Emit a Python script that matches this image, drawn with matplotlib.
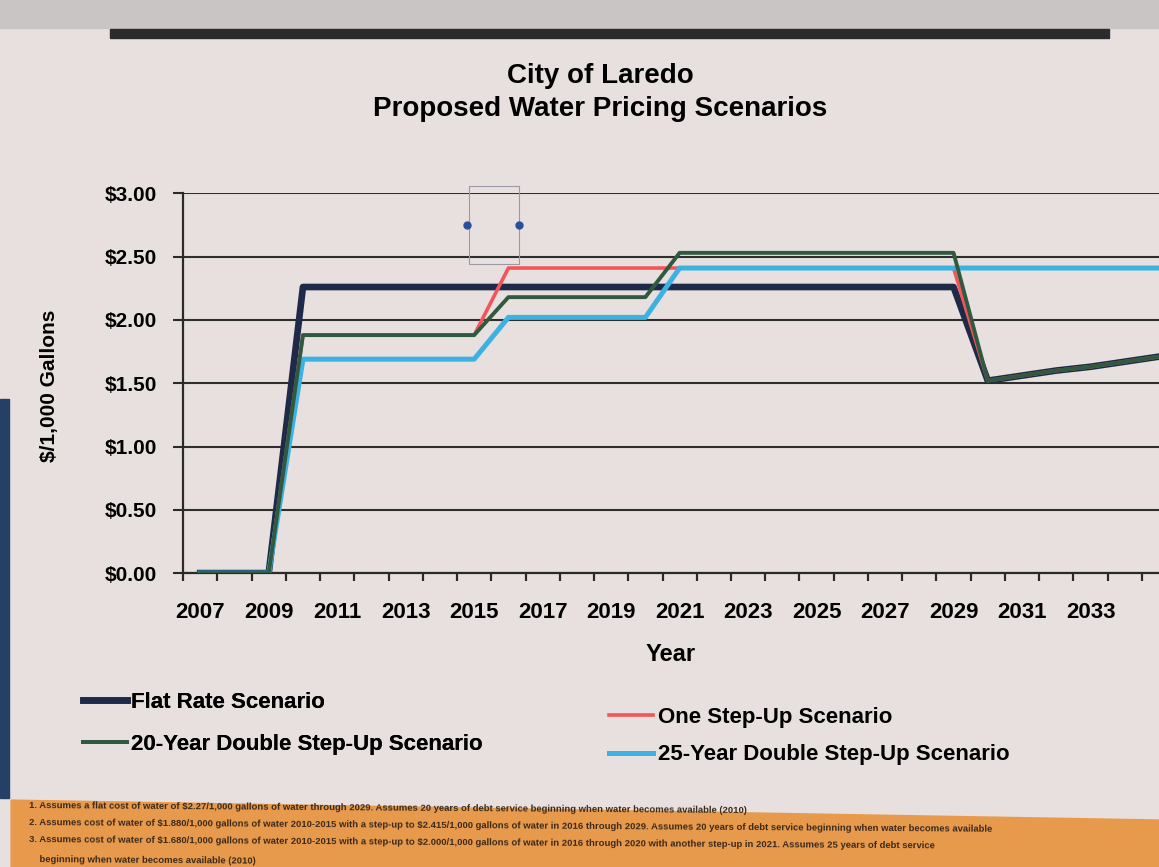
import numpy as np
import matplotlib
matplotlib.use("Agg")
import matplotlib.pyplot as plt
from matplotlib.patches import Rectangle, Polygon
from matplotlib.lines import Line2D

plt.rcParams['font.family'] = ['Liberation Sans', 'DejaVu Sans']
plt.rcParams['font.weight'] = 'bold'

# data ($ per 1,000 gallons)
years = list(range(2007, 2036))
flat_rate = [0, 0, 0] + [2.26] * 20 + [1.52, 1.56, 1.60, 1.63, 1.67, 1.71]
one_step = [0, 0, 0] + [1.88] * 6 + [2.41] * 14 + [1.52, 1.56, 1.60, 1.63, 1.67, 1.71]
double_20 = [0, 0, 0] + [1.88] * 6 + [2.18] * 5 + [2.53] * 9 + [1.52, 1.56, 1.60, 1.63, 1.67, 1.71]
double_25 = [0, 0, 0] + [1.69] * 6 + [2.02] * 5 + [2.41] * 15

x_labels = list(range(2007, 2034, 2))
y_ticks = [0, 0.5, 1.0, 1.5, 2.0, 2.5, 3.0]

footnotes = [
    r"1. Assumes a flat cost of water of \$2.27/1,000 gallons of water through 2029. Assumes 20 years of debt service beginning when water becomes available (2010)",
    r"2. Assumes cost of water of \$1.880/1,000 gallons of water 2010-2015 with a step-up to \$2.415/1,000 gallons of water in 2016 through 2029. Assumes 20 years of debt service beginning when water becomes available",
    r"3. Assumes cost of water of \$1.680/1,000 gallons of water 2010-2015 with a step-up to \$2.000/1,000 gallons of water in 2016 through 2020 with another step-up in 2021. Assumes 25 years of debt service",
    "    beginning when water becomes available (2010)",
]

bg = '#e8e0df'
fig = plt.figure(figsize=(11.59, 8.67), dpi=100, facecolor=bg)

# screen frame bits from the photo
fig.patches.append(Rectangle((0, 0.968), 1, 0.032, transform=fig.transFigure,
                             color='#c9c5c4', zorder=0))
fig.patches.append(Rectangle((0.095, 0.956), 0.862, 0.011, transform=fig.transFigure,
                             color='#2b2b2d', zorder=1))
fig.patches.append(Rectangle((0, 0.08), 0.008, 0.46, transform=fig.transFigure,
                             color='#263f66', zorder=1))
fig.patches.append(Polygon([(0.009, 0.0), (0.009, 0.078), (1.0, 0.055), (1.0, 0.0)],
                           closed=True, transform=fig.transFigure,
                           facecolor='#e89a4c', edgecolor='none', zorder=1))
for i, t in enumerate(footnotes):
    fig.text(0.025, 0.068 - i * 0.02, t, fontsize=6.8, color='#3a2a1a',
             ha='left', va='center', rotation=-0.4, zorder=2)

ax = fig.add_axes([0.158, 0.339, 0.842, 0.438])
ax.set_facecolor(bg)

ax.plot(years, flat_rate, color='#1e2a48', lw=4.8, zorder=3)
ax.plot(years, one_step, color='#f2565a', lw=2.6, zorder=4)
ax.plot(years, double_25, color='#3cb2e2', lw=3.6, zorder=5)
ax.plot(years, double_20, color='#2f5a40', lw=2.8, zorder=6)

ax.set_xlim(2006.5, 2035.0)
ax.set_ylim(0, 3.0)
ax.set_yticks(y_ticks)
ax.set_yticklabels(['$%.2f' % v for v in y_ticks], fontsize=15, fontweight='bold')
ax.set_xticks(x_labels)
ax.set_xticklabels([str(v) for v in x_labels], fontsize=16, fontweight='bold')
ax.tick_params(axis='x', length=0, pad=21)
ax.set_xticks(np.arange(2006.5, 2035.0, 1.0), minor=True)
ax.tick_params(axis='x', which='minor', length=6, width=1.6, color='#2a2a2a', direction='out')
ax.tick_params(axis='y', length=7, width=1.5, color='#2a2a2a', pad=12)
ax.grid(axis='y', color='#2e2e2e', lw=1.5, zorder=1)
ax.set_axisbelow(True)
for s in ['top', 'right']:
    ax.spines[s].set_visible(False)
for s in ['left', 'bottom']:
    ax.spines[s].set_color('#2a2a2a')
    ax.spines[s].set_linewidth(1.6)

ax.set_xlabel('Year', fontsize=17, fontweight='bold', labelpad=14)
fig.text(0.043, 0.555, '$/1,000 Gallons', rotation=90, fontsize=15,
         fontweight='bold', ha='center', va='center')
fig.text(0.518, 0.912, 'City of Laredo', fontsize=20, fontweight='bold', ha='center', va='center')
fig.text(0.518, 0.874, 'Proposed Water Pricing Scenarios', fontsize=20, fontweight='bold',
         ha='center', va='center')

# selection handle left on the screen
fig.patches.append(Rectangle((0.405, 0.695), 0.043, 0.09, transform=fig.transFigure,
                             fill=False, edgecolor='#9a9aa6', lw=0.8, zorder=7))
fig.add_artist(Line2D([0.403], [0.741], marker='o', ms=5, color='#2a4f9a',
                      transform=fig.transFigure, zorder=8))
fig.add_artist(Line2D([0.448], [0.741], marker='o', ms=5, color='#2a4f9a',
                      transform=fig.transFigure, zorder=8))

leg_font = {'weight': 'bold', 'size': 16}
leg1 = fig.legend([Line2D([], [], color='#1e2a48', lw=4.8),
                   Line2D([], [], color='#2f5a40', lw=2.8)],
                  ['Flat Rate Scenario', '20-Year Double Step-Up Scenario'],
                  loc='upper left', bbox_to_anchor=(0.054, 0.225), frameon=False,
                  handlelength=2.0, handletextpad=0.2, labelspacing=0.95, prop=leg_font)
fig.add_artist(leg1)
fig.legend([Line2D([], [], color='#f2565a', lw=2.6),
            Line2D([], [], color='#3cb2e2', lw=3.6)],
           ['One Step-Up Scenario', '25-Year Double Step-Up Scenario'],
           loc='upper left', bbox_to_anchor=(0.508, 0.208), frameon=False,
           handlelength=2.0, handletextpad=0.2, labelspacing=0.75, prop=leg_font)

fig.savefig('out.png', dpi=100, facecolor=bg)
